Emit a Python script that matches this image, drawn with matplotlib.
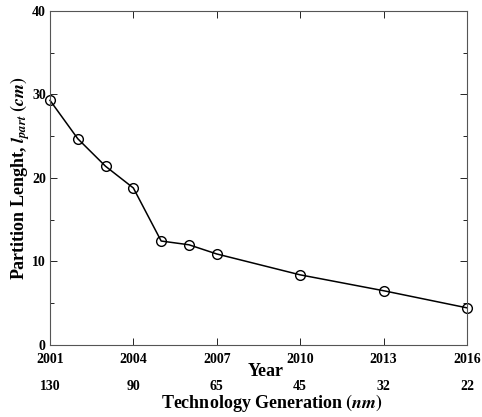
import matplotlib
matplotlib.use('Agg')
from matplotlib import pyplot as plt
from matplotlib import transforms
from matplotlib.ticker import MultipleLocator

years = [2001, 2002, 2003, 2004, 2005, 2006, 2007, 2010, 2013, 2016]
l_part = [29.3, 24.7, 21.4, 18.8, 12.45, 12.0, 10.9, 8.4, 6.5, 4.45]
tick_years = [2001, 2004, 2007, 2010, 2013, 2016]
tech_gen = ['130', '90', '65', '45', '32', '22']

plt.rcParams['font.family'] = 'Liberation Serif'
plt.rcParams['font.weight'] = 'bold'
plt.rcParams['mathtext.fontset'] = 'stix'

fig = plt.figure(figsize=(4.82, 4.17), dpi=100)
ax = fig.add_axes([0.1037, 0.1727, 0.865, 0.801])

ax.plot(years, l_part, color='black', linewidth=1.1, marker='o', markersize=7,
        markerfacecolor='none', markeredgecolor='black', markeredgewidth=1.0, clip_on=False)

ax.set_xlim(2001, 2016)
ax.set_ylim(0, 40)
ax.set_xticks(tick_years)
ax.set_yticks([0, 10, 20, 30, 40])
ax.yaxis.set_minor_locator(MultipleLocator(5))
ax.tick_params(which='both', direction='in', top=True, right=True, labelsize=10)
ax.tick_params(axis='x', pad=6)
ax.tick_params(axis='y', pad=3)
ax.tick_params(which='major', length=5, width=0.6)
ax.tick_params(which='minor', length=3, width=0.6)
for s in ax.spines.values():
    s.set_linewidth(0.8)
    s.set_color('#555555')

ax.set_ylabel(r'Partition Lenght, $l_{part}$ $(cm)$', fontsize=13, fontweight='bold', labelpad=0)

# 横轴标题和第二行: 工艺节点
fig.text(266 / 482, 1 - 372 / 417, 'Year', ha='center', va='center',
         fontsize=13, fontweight='bold')
trans = transforms.blended_transform_factory(ax.transData, fig.transFigure)
for yr, g in zip(tick_years, tech_gen):
    ax.text(yr, 1 - 386 / 417, g, transform=trans, ha='center', va='center',
            fontsize=10, fontweight='bold')
fig.text(272 / 482, 1 - 403 / 417, r'Technology Generation $(nm)$',
         ha='center', va='center', fontsize=13, fontweight='bold')

plt.savefig('out.png', dpi=100)
plt.close('all')
